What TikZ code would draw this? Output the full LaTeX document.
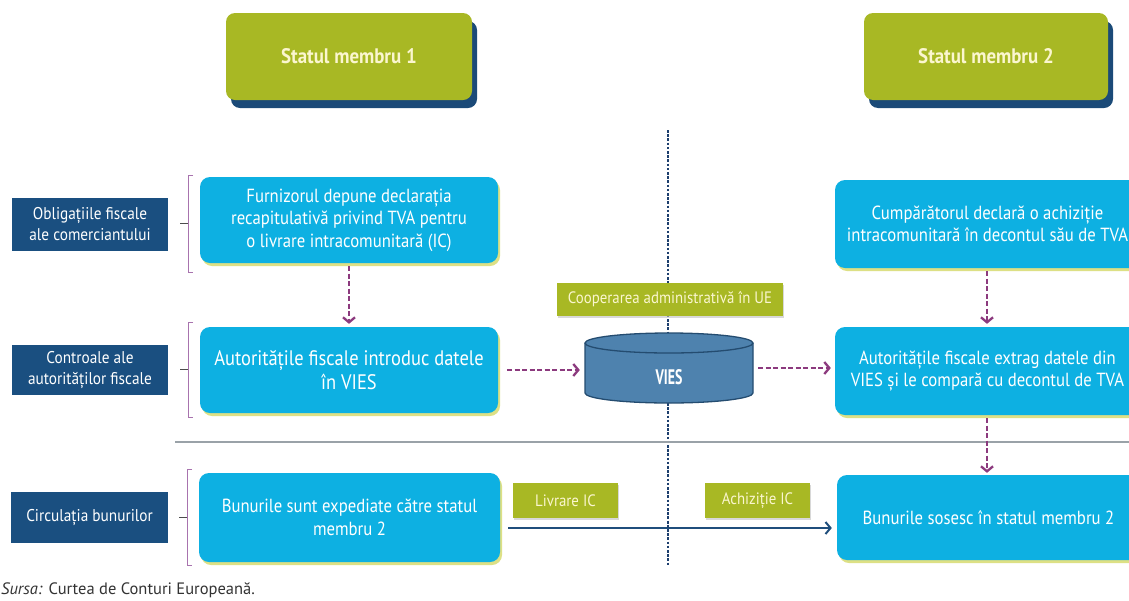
\documentclass[tikz,border=0pt]{standalone}
\usepackage{fontspec}
\setmainfont{PT Sans}
\newfontfamily\condf[FakeStretch=0.88]{PT Sans}
\newfontfamily\widecondf[FakeStretch=0.9]{PT Sans}
\newfontfamily\narrowf[FakeStretch=0.66]{PT Sans}
\usetikzlibrary{arrows.meta,shadows}

\definecolor{hgreen}{HTML}{A8B824}
\definecolor{hnavy}{HTML}{1B4A78}
\definecolor{boxcyan}{HTML}{0DB0E2}
\definecolor{lblblue}{HTML}{1A4F80}
\definecolor{arrpurple}{HTML}{8C3A7E}
\definecolor{brkpurple}{HTML}{A873AE}
\definecolor{cream}{HTML}{FBF6CF}
\definecolor{dbfill}{HTML}{4E82AE}
\definecolor{dbline}{HTML}{244C70}
\definecolor{vline}{HTML}{1D3F6E}
\definecolor{greyline}{HTML}{9AA2A8}
\definecolor{cyshadow}{HTML}{DADD78}
\definecolor{flow}{HTML}{1F4E7C}
\definecolor{srctext}{HTML}{333333}

\tikzset{
  header/.style={fill=hgreen, rounded corners=9pt, inner sep=0pt, align=center,
    text=cream, font=\widecondf\bfseries\fontsize{21}{24}\selectfont,
    drop shadow={shadow xshift=5pt, shadow yshift=-8pt, fill=hnavy, opacity=1}},
  rowlabel/.style={fill=lblblue, inner sep=0pt, align=center, text=white,
    font=\widecondf\fontsize{17}{21}\selectfont},
  stepbox/.style={fill=boxcyan, rounded corners=10pt, inner sep=0pt, align=center,
    text=white, font=\condf\fontsize{19}{22.5}\selectfont,
    drop shadow={shadow xshift=2pt, shadow yshift=-3pt, fill=cyshadow, opacity=0.9}},
  bigtext/.style={font=\condf\fontsize{21}{24}\selectfont},
  tag/.style={fill=hgreen, inner sep=0pt, align=center, text=cream,
    font=\widecondf\fontsize{16.5}{18}\selectfont,
    drop shadow={shadow xshift=1pt, shadow yshift=-1.5pt, fill=black!25, opacity=0.6}},
  dataflow/.style={draw=arrpurple, line width=2.3pt, dash pattern=on 5pt off 2.5pt,
    -{Straight Barb[length=5pt,width=12pt]}},
  goodsflow/.style={draw=flow, line width=2pt, -{Straight Barb[length=5pt,width=12pt]}},
  bracket/.style={draw=brkpurple, line width=1pt},
  tick/.style={draw=black!70, line width=1pt},
}

\begin{document}
\begin{tikzpicture}[x=1pt,y=-1pt]
\useasboundingbox (0,0) rectangle (1129,600);
\fill[white] (0,0) rectangle (1129,600);

% border between the two member states
\coordinate (vtop) at (668,130);
\coordinate (vbot) at (668,565);
\draw[vline, line width=2.8pt, dash pattern=on 2.6pt off 1.6pt] (vtop) -- (vbot);

% separator above the goods row
\coordinate (gl) at (175,442);
\coordinate (gr) at (1129,442);
\draw[greyline, line width=1.6pt] (gl) -- (gr);

% column headers
\node[header, minimum width=246, minimum height=87] (h1) at (349,56.5) {Statul membru 1};
\node[header, minimum width=244, minimum height=87] (h2) at (986,56.5) {Statul membru 2};

% row labels
\node[rowlabel, minimum width=156, minimum height=53] (l1) at (90,224.5) {Obligațiile fiscale\\ale comerciantului};
\node[rowlabel, minimum width=156, minimum height=50] (l2) at (90,370) {Controale ale\\autorităților fiscale};
\node[rowlabel, minimum width=157, minimum height=51] (l3) at (89.5,517.5) {Circulația bunurilor};

% brackets between row labels and steps
\draw[bracket] (193,175) -- (188,175) -- (188,272) -- (193,272);
\draw[tick] (180,223.5) -- (188,223.5);
\draw[bracket] (193,322) -- (188,322) -- (188,417) -- (193,417);
\draw[tick] (180,369.5) -- (188,369.5);
\draw[bracket] (192,469) -- (187,469) -- (187,565) -- (192,565);
\draw[tick] (179,517) -- (187,517);

% member state 1
\node[stepbox, minimum width=298, minimum height=86] (f1) at (349,220)
  {Furnizorul depune declarația\\recapitulativă privind TVA pentru\\o livrare intracomunitară (IC)};
\node[stepbox, bigtext, minimum width=298, minimum height=86] (a1) at (349,370)
  {Autoritățile fiscale introduc datele\\în VIES};
\node[stepbox, minimum width=301, minimum height=89] (b1) at (349.5,517.5)
  {Bunurile sunt expediate către statul\\membru 2};

% member state 2 (boxes run on past the right margin)
\node[stepbox, minimum width=305, minimum height=88] (c2) at (987.5,224)
  {Cumpărătorul declară o achiziție\\intracomunitară în decontul său de TVA};
\node[stepbox, minimum width=305, minimum height=88] (a2) at (987.5,371)
  {Autoritățile fiscale extrag datele din\\VIES și le compară cu decontul de TVA};
\node[stepbox, minimum width=303, minimum height=85] (b2) at (988.5,517.5)
  {Bunurile sosesc în statul membru 2};

% administrative cooperation and the VIES database
\node[tag, minimum width=226, minimum height=33] (coop) at (670,299.5) {Cooperarea administrativă în UE};
\fill[dbfill] (585,343) -- (585,393)
  arc[start angle=180, end angle=0, x radius=84, y radius=10]
  -- (753,343)
  arc[start angle=0, end angle=-180, x radius=84, y radius=10] -- cycle;
\draw[dbline, line width=1.3pt] (585,343) -- (585,393)
  arc[start angle=180, end angle=0, x radius=84, y radius=10]
  -- (753,343);
\draw[dbline, line width=1.3pt] (669,343) ellipse[x radius=84, y radius=10];
\node[inner sep=0pt, minimum width=168, minimum height=70,
  label={[text=white, font=\narrowf\bfseries\fontsize{21}{22}\selectfont, yshift=-9pt]center:VIES}]
  (vies) at (669,368) {};

% transaction tags
\node[tag, minimum width=105, minimum height=35] (livr) at (565.5,500.5) {Livrare IC};
\node[tag, minimum width=105, minimum height=35] (achz) at (757.5,500.5) {Achiziție IC};

% information flows
\coordinate (rcol) at (987,0);
\draw[dataflow, shorten <=3pt, shorten >=3pt] (f1.south) -- (a1.north);
\draw[dataflow, shorten <=9pt, shorten >=5pt] (a1.east) -- (a1.east -| vies.west);
\draw[dataflow, shorten <=5pt, shorten >=4pt] (vies.east) -- (vies.east -| a2.west);
\draw[dataflow, shorten <=3pt, shorten >=3pt] (c2.south -| rcol) -- (a2.north -| rcol);
\draw[dataflow, shorten <=3pt, shorten >=2pt] (a2.south -| rcol) -- (b2.north -| rcol);

% movement of goods
\coordinate (gs) at ([shift={(8pt,-10.5pt)}]b1.east);
\draw[goodsflow] (gs) -- ([xshift=-5pt]b2.west |- gs);
\draw[vline, line width=2.8pt, dash pattern=on 2.6pt off 1.6pt] (668,521) -- (668,535);

% source line
\node[anchor=base west, inner sep=0pt, text=srctext, font=\fontsize{16.5}{18}\selectfont]
  (src) at (1,594) {\textit{Sursa:} Curtea de Conturi Europeană.};
\end{tikzpicture}
\end{document}
